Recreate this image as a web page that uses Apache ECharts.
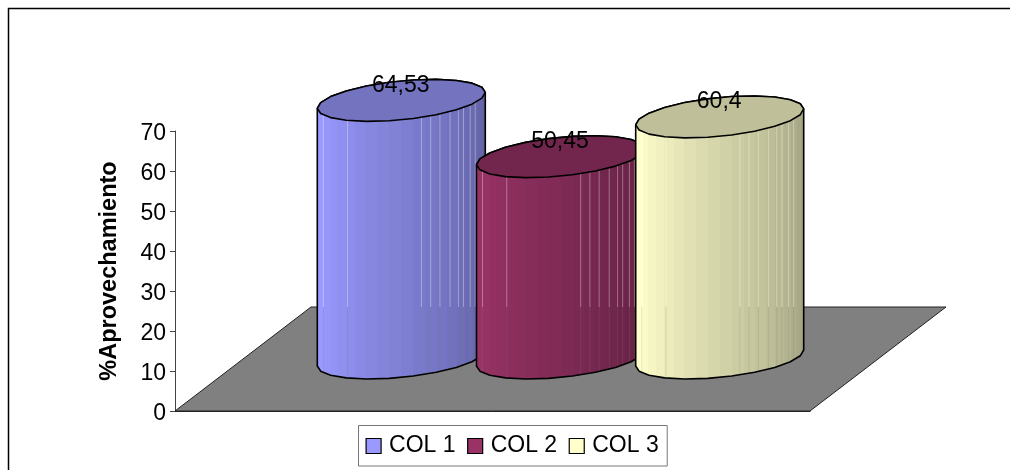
<!DOCTYPE html>
<html><head><meta charset="utf-8">
<style>html,body{margin:0;padding:0;background:#fff}#c{width:1010px;height:470px}</style>
<script src="https://cdn.jsdelivr.net/npm/echarts@6/dist/echarts.min.js"></script>
</head><body><div id="c"></div>
<script>
const categories = ['COL 1', 'COL 2', 'COL 3'];
const values = [64.53, 50.45, 60.4];
const valueLabels = ['64,53', '50,45', '60,4'];
const colors = ['#9999FF', '#993366', '#FFFFCC'];
const topColors = ['#7373BF', '#73264D', '#BFBF99'];
const yTicks = { min: 0, max: 70, interval: 10 };

const RX = 84, RY = 19.4, TILT = 8, FLOOR_BACK_Y = 307, DEPTH_X = 136, DEPTH_Y = 104;
const shadeSteps = [.97,1,1,.98,.96,.94,.92,.9,.88,.86,.84,.82,.8,.78,.76,.74,.72,.7,.68,.66,.64,.62];
const gapsLeft = [.036,.18,.62,.675,.73,.79,.84,.87,.91,.94];

function shade(hex, k){
  const n = parseInt(hex.slice(1),16);
  const c = [n>>16&255,n>>8&255,n&255].map(v=>Math.round(v*k));
  return `rgb(${c.join(',')})`;
}
function ell(cx, cy, t){ return [cx+RX*Math.cos(t), cy-TILT*Math.cos(t)+RY*Math.sin(t)]; }
function sideGradient(base){
  const stops=[], N=shadeSteps.length;
  for(let i=0;i<N;i++){
    const a=(1-Math.cos(Math.PI*i/N))/2, b=(1-Math.cos(Math.PI*(i+1)/N))/2;
    const col=shade(base,shadeSteps[i]);
    stops.push({offset:a,color:col},{offset:b,color:col});
  }
  return new echarts.graphic.LinearGradient(0,0,1,0,stops);
}
function cylinder(idx){
  return function(params, api){
    const v = api.value(1);
    const base = api.coord([idx,0]), top = api.coord([idx,v]);
    const cx = base[0], by = base[1], ty = top[1]+0.5;
    const ST = 11, side=[], cap=[];
    for(let i=0;i<=ST;i++) side.push(ell(cx,by,Math.PI-Math.PI*i/ST));
    for(let i=0;i<=ST;i++) side.push(ell(cx,ty,-Math.PI*i/ST));
    for(let i=0;i<2*ST;i++) cap.push(ell(cx,ty,2*Math.PI*i/(2*ST)));
    const kids=[{type:'polygon',shape:{points:side},
      style:{fill:sideGradient(colors[idx]),stroke:'#000',lineWidth:1.6,lineJoin:'round'}}];
    gapsLeft.forEach(f=>{
      const x=cx-RX+2*RX*f, t=Math.acos((x-cx)/RX);
      const yb=ell(cx,by,t)[1]-1, yt=ell(cx,ty,t)[1];
      kids.push({type:'line',shape:{x1:x,y1:yt,x2:x,y2:FLOOR_BACK_Y},style:{stroke:'rgba(255,255,255,.35)',lineWidth:1}});
      kids.push({type:'line',shape:{x1:x,y1:FLOOR_BACK_Y,x2:x,y2:yb},style:{stroke:'rgba(128,128,128,.22)',lineWidth:1}});
    });
    kids.push({type:'polygon',shape:{points:cap},style:{fill:topColors[idx],stroke:'#000',lineWidth:1.6,lineJoin:'round'}});
    kids.push({type:'text',style:{text:valueLabels[idx],x:cx-0.5,y:ty-15,align:'center',verticalAlign:'middle',
      font:'23px "Liberation Sans"',fill:'#000'},z2:10});
    return {type:'group',children:kids};
  };
}
const chart = echarts.init(document.getElementById('c'),null,{renderer:'canvas'});
const font='Liberation Sans';
chart.setOption({
  animation:false,
  backgroundColor:'#fff',
  graphic:[{type:'rect',shape:{x:8.5,y:8.5,width:1100,height:600},style:{fill:'none',stroke:'#000',lineWidth:1.5},silent:true,z:-1}],
  grid:[
    {left:175,width:635,top:131,height:280},
    {left:321.7,width:477.6,top:78,height:280}
  ],
  xAxis:[
    {gridIndex:0,type:'category',data:[''],axisLine:{lineStyle:{color:'#222',width:1}},axisTick:{length:5,lineStyle:{color:'#444'}},axisLabel:{show:false}},
    {gridIndex:1,type:'category',data:categories,show:false}
  ],
  yAxis:[
    {gridIndex:0,type:'value',min:yTicks.min,max:yTicks.max,interval:yTicks.interval,
     name:'%Aprovechamiento',nameLocation:'middle',nameGap:53,
     nameTextStyle:{fontFamily:font,fontWeight:'bold',fontSize:23.5,color:'#000'},
     axisLine:{show:true,lineStyle:{color:'#444',width:1}},axisTick:{show:true,length:5,lineStyle:{color:'#444'}},
     axisLabel:{fontFamily:font,fontSize:23,color:'#000',margin:9,verticalAlign:'top',padding:[-9,0,0,0]},splitLine:{show:false}},
    {gridIndex:1,type:'value',min:yTicks.min,max:yTicks.max,interval:yTicks.interval,show:false}
  ],
  legend:{left:358.5,top:425.5,padding:[9,8.5,8.5,7],itemWidth:15,itemHeight:15,itemGap:11.5,
    borderColor:'#777',borderWidth:1,backgroundColor:'#fff',
    textStyle:{fontFamily:font,fontSize:23,color:'#000',padding:[2,0,0,3]},
    data:categories.map((n,i)=>({name:n,icon:'rect',itemStyle:{color:colors[i],borderColor:'#000',borderWidth:1.2}}))},
  series:[
    {type:'custom',silent:true,xAxisIndex:0,yAxisIndex:0,z:1,data:[[0,0]],encode:{x:0,y:1},
     renderItem:(p,api)=>{
       const a=api.coord([0,0]), r=p.coordSys;
       const L=r.x,R=r.x+r.width,y=a[1];
       return {type:'polygon',shape:{points:[[L,y],[R,y],[R+DEPTH_X,y-DEPTH_Y],[L+DEPTH_X,y-DEPTH_Y]]},
         style:{fill:'#808080',stroke:'#222',lineWidth:1}};
     }},
    ...categories.map((n,i)=>({
      name:n,type:'custom',silent:true,xAxisIndex:1,yAxisIndex:1,z:2+i,clip:false,
      itemStyle:{color:colors[i]},
      data:[[i,values[i]]],encode:{x:0,y:1},renderItem:cylinder(i)
    }))
  ]
});
</script></body></html>
